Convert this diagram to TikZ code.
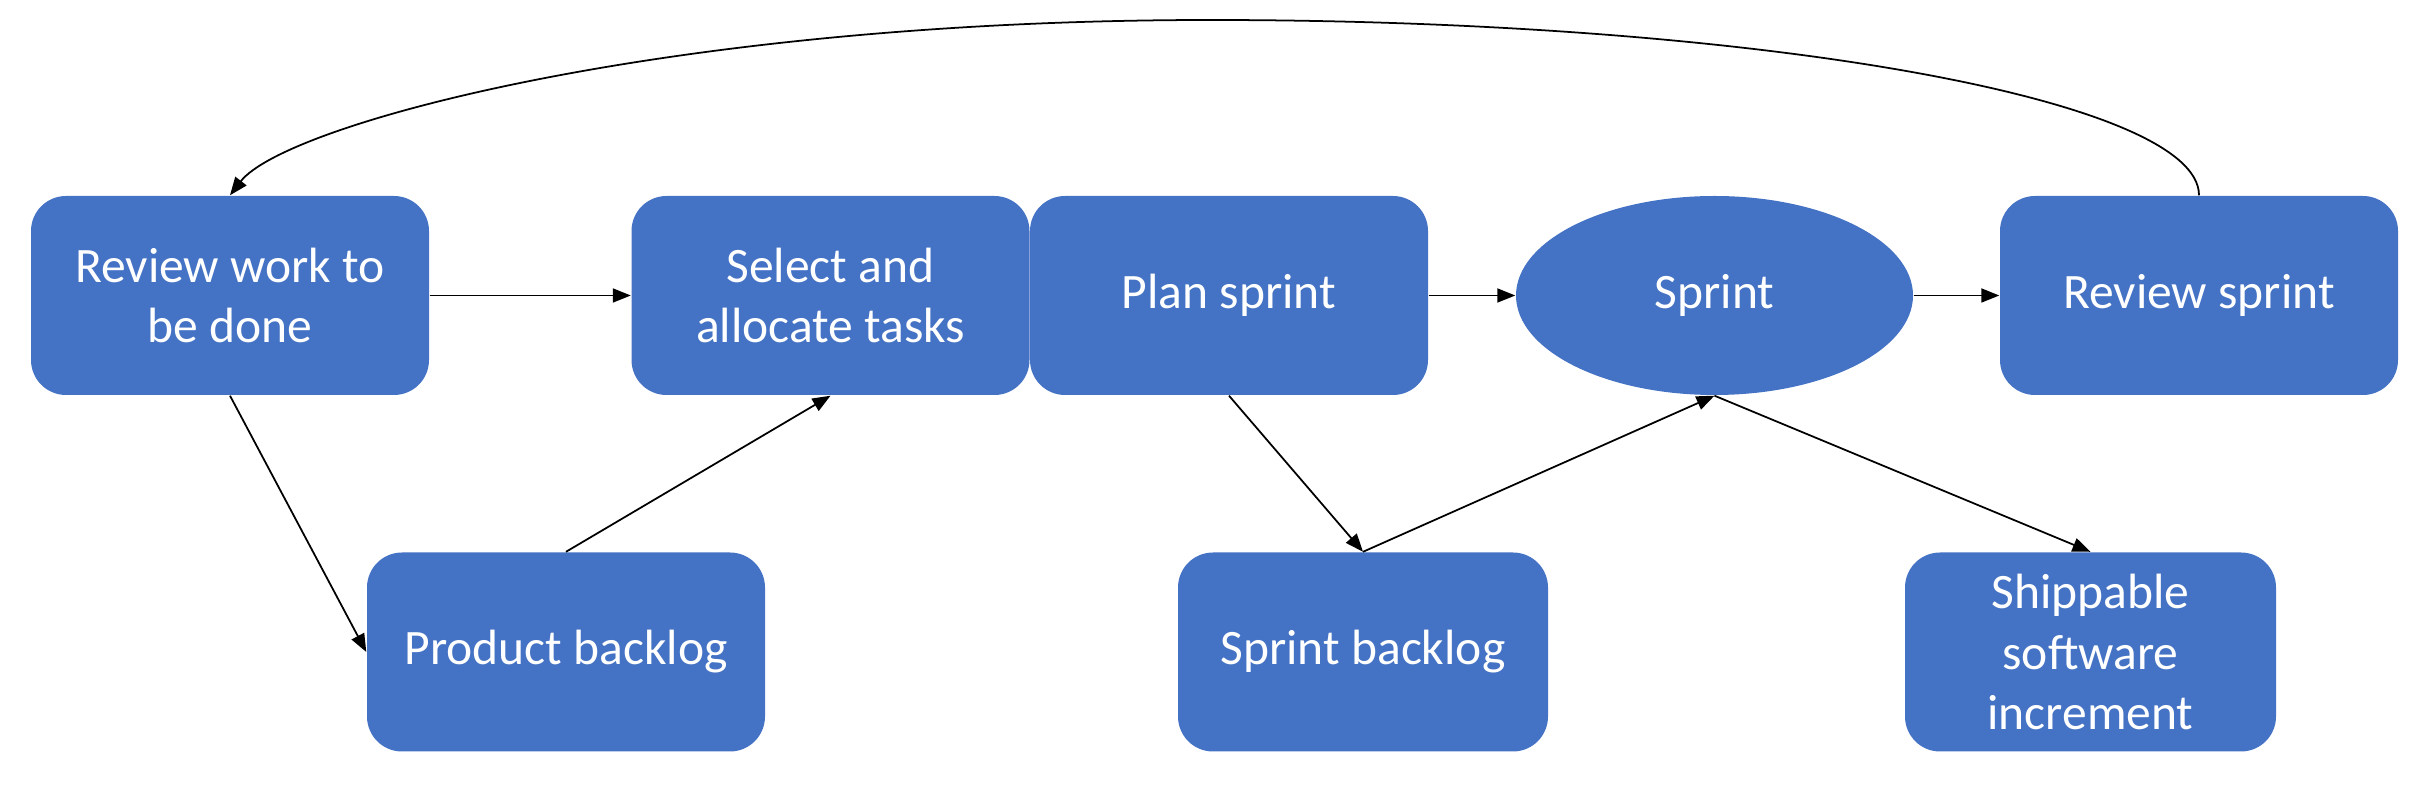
\documentclass[tikz,border=0pt]{standalone}
\usepackage{fontspec}
\setmainfont{Carlito}
\usepackage{xcolor}
\usetikzlibrary{arrows.meta, positioning}
\usetikzlibrary{shapes.geometric}
\definecolor{blockblue}{HTML}{4472C4}

\begin{document}
\begin{tikzpicture}[
    every node/.style={font=\fontsize{14.1}{17.2}\selectfont},
    box/.style={fill=blockblue, text=white, rounded corners=0.35cm, align=center, inner sep=0pt, minimum width=3.98cm, minimum height=1.99cm},
    oval/.style={ellipse, fill=blockblue, text=white, align=center, inner sep=0pt, minimum width=3.97cm, minimum height=1.99cm},
    arrow/.style={-{Triangle[length=1.8mm, width=1.4mm]}, line width=0.5pt}
]
\useasboundingbox (0,0) rectangle (24.24,7.88);

% --- top row ---
\node[box] (review) at (2.30, 4.925) {Review work to \\ be done};
\node[box] (select) at (8.305, 4.925) {Select and \\ allocate tasks};
\node[box] (plan) at (12.29, 4.925) {Plan sprint};
\node[oval] (sprint) at (17.145, 4.925) {Sprint};
\node[box] (revsprint) at (21.99, 4.925) {Review sprint};

% --- bottom row ---
\node[box] (pbacklog) at (5.66, 1.36) {Product backlog};
\node[box, minimum width=3.70cm] (sbacklog) at (13.63, 1.36) {Sprint backlog};
\node[box, minimum width=3.71cm] (ship) at (20.905, 1.36) {Shippable \\ software \\ increment};

\coordinate (top) at (12.10, 7.68);

\draw[arrow] (review) -- (select);
\draw[arrow] (review.south) -- (pbacklog.west);
\draw[arrow] (pbacklog.north) -- (select.south);
\draw[arrow] (plan) -- (sprint);
\draw[arrow] (plan.south) -- (sbacklog.north);
\draw[arrow] (sbacklog.north) -- (sprint.south);
\draw[arrow] (sprint.south) -- (ship.north);
\draw[arrow] (sprint) -- (revsprint);
\draw[arrow] (revsprint.north) .. controls (21.99, 6.89) and (17.56, 7.68) .. (top)
    .. controls (6.69, 7.68) and (2.85, 6.64) .. (review.north);

\end{tikzpicture}
\end{document}
